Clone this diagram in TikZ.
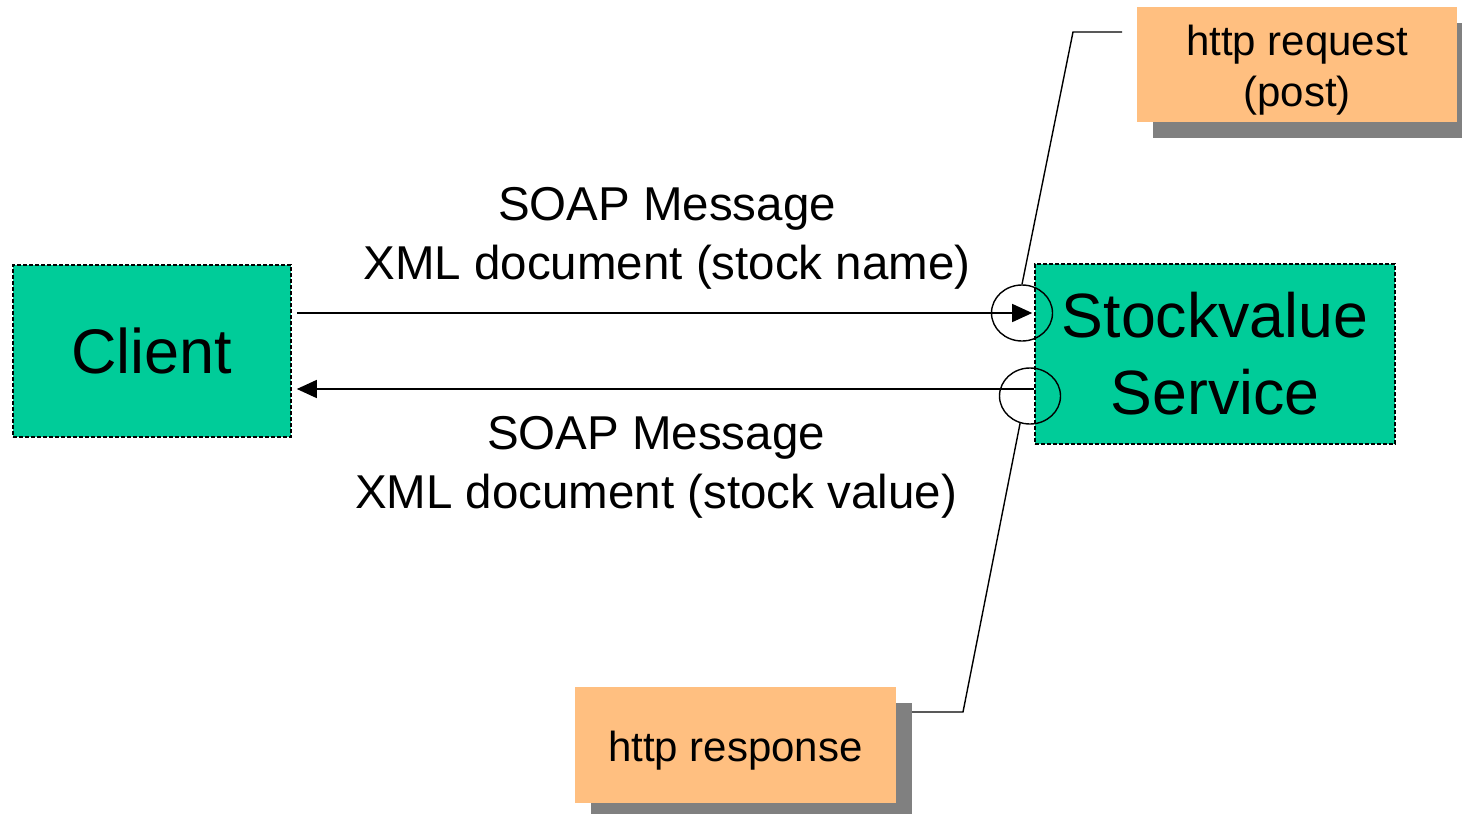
\documentclass[tikz,border=0pt]{standalone}
\usepackage{fontspec}
\setmainfont{Liberation Sans}
\usetikzlibrary{arrows.meta,shapes.geometric,shadows}
\definecolor{soapgreen}{RGB}{0,204,153}
\definecolor{httporange}{RGB}{255,191,128}

\begin{document}
\begin{tikzpicture}[x=0.5pt,y=-0.5pt,
    actor/.style={draw,dash pattern=on 2pt off 1pt,line width=0.8pt,fill=soapgreen,inner sep=0pt,align=center},
    note/.style={fill=httporange,inner sep=0pt,align=center,font=\fontsize{21}{25.5}\selectfont,
      drop shadow={shadow xshift=8pt,shadow yshift=-8pt,fill=black!50,opacity=1}},
    port/.style={draw,ellipse,line width=0.7pt,inner sep=0pt,minimum width=30.5pt,minimum height=28pt},
    msg/.style={align=center,font=\fontsize{23.75}{29.5}\selectfont},
    msgarrow/.style={line width=0.7pt,-{Triangle[length=10pt,width=9pt]}}]
        \useasboundingbox (0,0) rectangle (1462,814);

        \node[actor,minimum width=139pt,minimum height=86pt,font=\fontsize{31.5}{38}\selectfont] (client) at (152,351) {Client};
        \node[actor,minimum width=180pt,minimum height=90pt,font=\fontsize{31.3}{38.5}\selectfont] (service) at (1215,354) {Stockvalue\\Service};
        \node[note,minimum width=160pt,minimum height=57.5pt,text height=46.5pt] (request) at (1297,64.5) {http request\\(post)};
        \node[note,minimum width=160.5pt,minimum height=58pt,text height=21pt] (response) at (735.5,745) {http response};

        \node[port] (reqport) at (1022,313) {};
        \node[port] (resport) at (1030,396) {};

        \coordinate (reqbend) at (1073,32);
        \coordinate (reqend) at (1122,32);
        \coordinate (resbend) at (963,712);
        \coordinate (resend) at (912,712);
        \coordinate (retline) at (0,389);

        \draw[line width=0.7pt] (reqport.north) -- (reqbend) -- (reqend);
        \draw[line width=0.7pt] (resport.250) -- (resbend) -- (resend);

        \draw[msgarrow,shorten <=2.5pt,shorten >=1pt] (client.east |- reqport) -- (service.west |- reqport);
        \draw[msgarrow,shorten >=2.5pt] (service.west |- retline) -- (client.east |- retline);

        \node[msg] (reqlabel) at (667,238) {SOAP Message\\XML document (stock name)};
        \node[msg] (reslabel) at (656,467) {SOAP Message\\XML document (stock value)};
    \end{tikzpicture}
\end{document}
